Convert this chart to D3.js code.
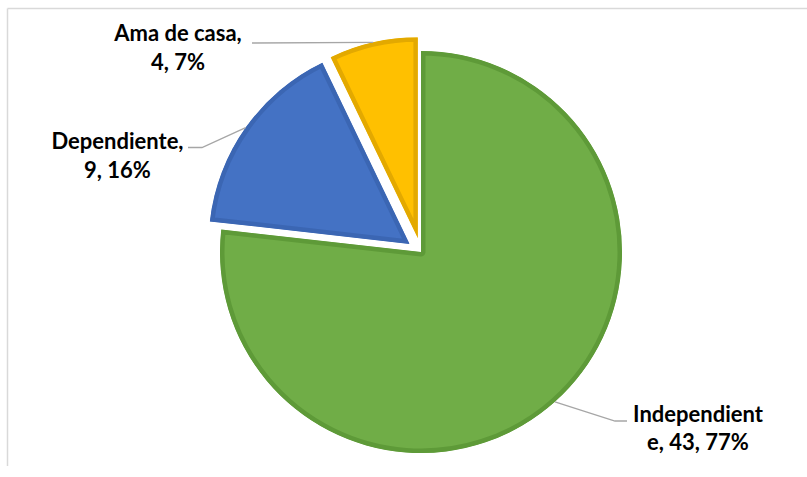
<!DOCTYPE html>
<html>
<head>
<meta charset="utf-8">
<script src="https://cdn.jsdelivr.net/npm/d3@7"></script>
<style>
  body { margin: 0; background: #fff; }
  svg { display: block; }
  .lbl { font-family: Lato, "Liberation Sans", sans-serif; font-weight: bold; font-size: 22px; fill: #000; }
</style>
</head>
<body>
<script>
// data
var categories = ["Independiente", "Dependiente", "Ama de casa"];
var values = [43, 9, 4];
var labelLines = [["Independient", "e, 43, 77%"], ["Dependiente,", "9, 16%"], ["Ama de casa,", "4, 7%"]];

var colors = ["#70AD47", "#4472C4", "#FFC000"];
var rims = ["#5E9A38", "#3B66B3", "#E3A900"];
var explode = [0, 14, 14];

var width = 807, height = 477;
var cx = 421, cy = 252, radius = 201;

// label layout relative to pie centre: text centre x, first baseline y, elbow, end of leader
var labelLayout = [
  {x: 277, y: 169.5, elbow: [194, 169], end: [206, 169]},
  {x: -303.5, y: -103, elbow: [-219, -104.5], end: [-233, -104.5]},
  {x: -243, y: -211, elbow: null, end: [-169, -209]}
];

var svg = d3.select("body").append("svg")
  .attr("width", width)
  .attr("height", height);

// chart area border (only top and left visible)
svg.append("line").attr("x1", 7.5).attr("y1", 8.5).attr("x2", width).attr("y2", 8.5)
  .attr("stroke", "#d9d9d9").attr("stroke-width", 1.5);
svg.append("line").attr("x1", 7.5).attr("y1", 8.5).attr("x2", 7.5).attr("y2", 466)
  .attr("stroke", "#d9d9d9").attr("stroke-width", 1.5);

var pie = d3.pie().sort(null).value(function(d){ return d; });
var arcs = pie(values);

var arc = d3.arc().innerRadius(0).outerRadius(radius);

var g = svg.append("g").attr("transform", "translate(" + cx + "," + cy + ")");

var offset = function(d, i) {
  var mid = (d.startAngle + d.endAngle) / 2;
  return [Math.sin(mid) * explode[i], -Math.cos(mid) * explode[i]];
};

var defs = svg.append("defs");
arcs.forEach(function(d, i) {
  defs.append("clipPath").attr("id", "clip" + i)
    .append("path").attr("d", arc(d));
});

var slices = g.selectAll("g.slice")
  .data(arcs)
  .enter()
  .append("g")
  .attr("class", "slice")
  .attr("transform", function(d, i) {
    var o = offset(d, i);
    return "translate(" + o[0] + "," + o[1] + ")";
  });

slices.append("path")
  .attr("d", arc)
  .attr("clip-path", function(d, i){ return "url(#clip" + i + ")"; })
  .attr("fill", function(d, i){ return colors[i]; })
  .attr("stroke", function(d, i){ return rims[i]; })
  .attr("stroke-width", 9)
  .attr("stroke-linejoin", "round");

// leader lines
arcs.forEach(function(d, i) {
  var o = offset(d, i);
  var mid = (d.startAngle + d.endAngle) / 2;
  var start = [Math.sin(mid) * radius + o[0], -Math.cos(mid) * radius + o[1]];
  var L = labelLayout[i];
  var pts = [start];
  if (L.elbow) pts.push(L.elbow);
  pts.push(L.end);
  g.append("path")
    .attr("d", d3.line()(pts))
    .attr("fill", "none")
    .attr("stroke", "#a6a6a6")
    .attr("stroke-width", 1.3);
});

// labels
arcs.forEach(function(d, i) {
  var L = labelLayout[i];
  var t = g.append("text")
    .attr("class", "lbl")
    .attr("text-anchor", "middle")
    .attr("x", L.x)
    .attr("y", L.y);
  labelLines[i].forEach(function(line, k) {
    t.append("tspan").attr("x", L.x).attr("dy", k === 0 ? 0 : 28.5).text(line);
  });
});
</script>
</body>
</html>
